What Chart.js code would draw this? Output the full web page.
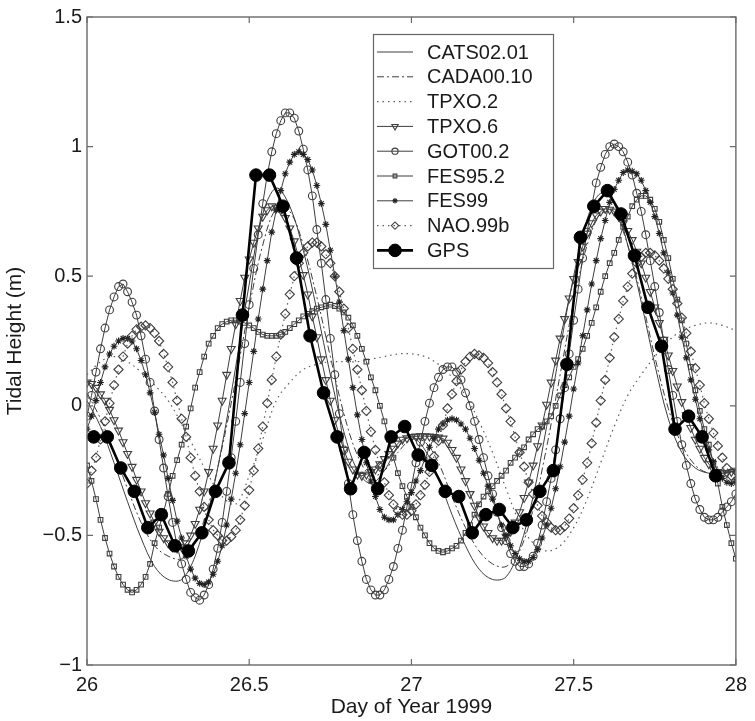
<!DOCTYPE html>
<html><head><meta charset="utf-8">
<script src="https://cdn.jsdelivr.net/npm/chart.js@4.4.0/dist/chart.umd.min.js"></script>
<style>html,body{margin:0;padding:0;background:#fff;}#wrap{width:755px;height:721px;}</style>
</head><body><div id="wrap"><canvas id="c" width="755" height="721"></canvas></div>
<script>
// ---- sampling of the series (day of year) ----
const startDay = 26;
const markerStepHours = 1/3;   // model series with markers: 20-min samples
const lineStepHours = 1;       // model series without markers: hourly
const gpsStartDay = 26 + 0.5/24;
const gpsStepHours = 1;

const seriesNames = ['CATS02.01','CADA00.10','TPXO.2','TPXO.6','GOT00.2','FES95.2','FES99','NAO.99b','GPS'];
const xTickValues = [26, 26.5, 27, 27.5, 28];
const yTickValues = [-1, -0.5, 0, 0.5, 1, 1.5];

// hourly
const cats0201 = [0.02,-0.08,-0.22,-0.37,-0.51,-0.62,-0.67,-0.67,-0.58,-0.40,-0.15,0.15,0.47,0.74,0.84,0.77,0.60,0.37,0.12,-0.10,-0.25,-0.30,-0.25,-0.16,-0.12,-0.17,-0.28,-0.42,-0.54,-0.63,-0.67,-0.66,-0.55,-0.35,-0.08,0.22,0.50,0.72,0.82,0.78,0.62,0.40,0.16,-0.05,-0.18,-0.24,-0.26,-0.26,-0.25];
const cada0010 = [0.05,-0.05,-0.18,-0.32,-0.45,-0.54,-0.58,-0.59,-0.53,-0.38,-0.16,0.10,0.38,0.62,0.76,0.75,0.62,0.42,0.19,-0.03,-0.19,-0.27,-0.25,-0.18,-0.13,-0.14,-0.22,-0.35,-0.47,-0.56,-0.61,-0.62,-0.56,-0.40,-0.16,0.12,0.40,0.62,0.74,0.74,0.62,0.42,0.19,-0.01,-0.15,-0.23,-0.26,-0.26,-0.25];
const tpxo2 = [0.12,0.17,0.19,0.17,0.13,0.08,0.02,-0.07,-0.17,-0.27,-0.35,-0.38,-0.27,-0.13,0.02,0.09,0.14,0.16,0.17,0.17,0.17,0.18,0.19,0.20,0.20,0.19,0.16,0.11,0.04,-0.06,-0.18,-0.32,-0.45,-0.53,-0.56,-0.54,-0.47,-0.36,-0.22,-0.08,0.04,0.12,0.19,0.25,0.29,0.31,0.32,0.31,0.29];

// 20-minute samples
const tpxo6 = [
0.09,0.085,0.07, 0.045,0.02,-0.015, -0.055,-0.095,-0.14, -0.185,-0.235,-0.285, -0.33,-0.375,-0.415, -0.45,-0.485,-0.51,
-0.53,-0.545,-0.55, -0.545,-0.53,-0.50, -0.455,-0.40,-0.33, -0.255,-0.165,-0.075, 0.02,0.12,0.22, 0.315,0.405,0.495,
0.565,0.63,0.685, 0.73,0.755,0.77, 0.765,0.755,0.725, 0.685,0.635,0.57, 0.505,0.43,0.345, 0.265,0.18,0.10,
0.02,-0.055,-0.115, -0.17,-0.215,-0.245, -0.265,-0.27,-0.265, -0.255,-0.245,-0.225, -0.205,-0.185,-0.165, -0.145,-0.13,-0.125,
-0.12,-0.118,-0.117, -0.117,-0.118,-0.12, -0.122,-0.126,-0.142, -0.17,-0.20,-0.245, -0.29,-0.34,-0.385, -0.43,-0.465,-0.49,
-0.51,-0.52,-0.52, -0.505,-0.485,-0.45, -0.41,-0.355,-0.295, -0.23,-0.155,-0.075, 0.005,0.09,0.175, 0.26,0.335,0.415,
0.49,0.555,0.615, 0.665,0.705,0.735, 0.75,0.76,0.757, 0.75,0.73,0.705, 0.675,0.64,0.595, 0.55,0.495,0.44,
0.38,0.32,0.255, 0.195,0.135,0.075, 0.015,-0.035,-0.085, -0.13,-0.165,-0.20, -0.225,-0.245,-0.255, -0.26,-0.26,-0.255,
-0.25];
const got002 = [
-0.04,0.04,0.13, 0.22,0.30,0.37, 0.42,0.46,0.47, 0.44,0.40,0.35, 0.27,0.18,0.09, -0.02,-0.13,-0.24,
-0.35,-0.45,-0.54, -0.61,-0.67,-0.72, -0.74,-0.75,-0.73, -0.69,-0.63,-0.55, -0.45,-0.33,-0.20, -0.06,0.09,0.24,
0.39,0.53,0.66, 0.78,0.89,0.98, 1.05,1.10,1.13, 1.13,1.11,1.06, 0.99,0.91,0.81, 0.68,0.55,0.41,
0.26,0.12,-0.03, -0.17,-0.30,-0.42, -0.52,-0.60,-0.67, -0.71,-0.73,-0.73, -0.71,-0.67,-0.62, -0.55,-0.48,-0.39,
-0.31,-0.22,-0.14, -0.06,0.01,0.07, 0.11,0.14,0.15, 0.15,0.13,0.10, 0.05,0.00,-0.06, -0.13,-0.20,-0.27,
-0.34,-0.41,-0.47, -0.52,-0.57,-0.60, -0.62,-0.62,-0.61, -0.58,-0.53,-0.46, -0.37,-0.28,-0.17, -0.05,0.07,0.20,
0.33,0.45,0.57, 0.67,0.77,0.86, 0.92,0.97,1.00, 1.01,1.00,0.98, 0.94,0.89,0.82, 0.75,0.66,0.56,
0.46,0.36,0.25, 0.14,0.04,-0.06, -0.15,-0.23,-0.30, -0.36,-0.40,-0.43, -0.44,-0.44,-0.43, -0.41,-0.39,-0.37,
-0.34];
const fes952 = [
-0.23,-0.29,-0.36, -0.44,-0.51,-0.57, -0.62,-0.66,-0.69, -0.71,-0.72,-0.71, -0.69,-0.66,-0.61, -0.53,-0.47,-0.41,
-0.34,-0.27,-0.21, -0.15,-0.08,-0.01, 0.07,0.13,0.19, 0.24,0.27,0.30, 0.315,0.325,0.33, 0.33,0.325,0.32,
0.31,0.30,0.285, 0.275,0.27,0.27, 0.27,0.275,0.285, 0.30,0.315,0.33, 0.345,0.355,0.365, 0.375,0.38,0.385,
0.39,0.385,0.375, 0.36,0.34,0.31, 0.27,0.22,0.17, 0.11,0.06,0.00, -0.06,-0.13,-0.20, -0.26,-0.31,-0.35,
-0.39,-0.43,-0.47, -0.50,-0.53,-0.55, -0.56,-0.565,-0.56, -0.55,-0.54,-0.52, -0.49,-0.46,-0.42, -0.38,-0.35,-0.33,
-0.31,-0.29,-0.27, -0.25,-0.22,-0.20, -0.18,-0.16,-0.13, -0.11,-0.09,-0.08, -0.06,-0.04,0.00, 0.04,0.08,0.11,
0.15,0.18,0.22, 0.27,0.32,0.38, 0.44,0.50,0.55, 0.59,0.64,0.69, 0.73,0.77,0.795, 0.81,0.81,0.795,
0.76,0.71,0.64, 0.57,0.49,0.41, 0.33,0.24,0.15, 0.06,-0.02,-0.09, -0.15,-0.22,-0.30, -0.39,-0.46,-0.53,
-0.59];
const fes99 = [
-0.09,-0.04,0.02, 0.09,0.15,0.20, 0.23,0.25,0.26, 0.26,0.25,0.22, 0.175,0.12,0.05, -0.025,-0.11,-0.19,
-0.28,-0.365,-0.445, -0.51,-0.58,-0.63, -0.665,-0.685,-0.69, -0.68,-0.65,-0.60, -0.54,-0.46,-0.36, -0.26,-0.15,-0.03,
0.09,0.21,0.335, 0.45,0.56,0.67, 0.755,0.83,0.895, 0.94,0.97,0.98, 0.97,0.95,0.91, 0.85,0.78,0.70,
0.60,0.50,0.40, 0.29,0.18,0.07, -0.035,-0.13,-0.22, -0.29,-0.35,-0.40, -0.43,-0.44,-0.44, -0.42,-0.40,-0.37,
-0.335,-0.29,-0.25, -0.205,-0.16,-0.125, -0.09,-0.07,-0.055, -0.05,-0.055,-0.07, -0.09,-0.125,-0.165, -0.21,-0.26,-0.31,
-0.36,-0.415,-0.46, -0.50,-0.54,-0.57, -0.59,-0.60,-0.60, -0.585,-0.555,-0.51, -0.46,-0.395,-0.32, -0.235,-0.14,-0.04,
0.065,0.165,0.27, 0.37,0.47,0.56, 0.645,0.715,0.785, 0.835,0.87,0.90, 0.91,0.905,0.895, 0.87,0.83,0.785,
0.73,0.665,0.59, 0.515,0.435,0.35, 0.265,0.185,0.10, 0.025,-0.05,-0.11, -0.17,-0.215,-0.255, -0.28,-0.295,-0.30,
-0.29];
const nao99b = [
-0.30,-0.25,-0.20, -0.13,-0.06,0.01, 0.08,0.14,0.19, 0.24,0.27,0.295, 0.305,0.31,0.30, 0.28,0.25,0.20,
0.15,0.09,0.02, -0.05,-0.12,-0.20, -0.27,-0.33,-0.39, -0.44,-0.48,-0.50, -0.52,-0.52,-0.505, -0.48,-0.44,-0.385,
-0.325,-0.25,-0.165, -0.08,0.01,0.10, 0.19,0.275,0.355, 0.43,0.50,0.55, 0.59,0.615,0.63, 0.63,0.615,0.585,
0.55,0.50,0.44, 0.375,0.30,0.22, 0.14,0.06,-0.02, -0.10,-0.17,-0.235, -0.295,-0.345,-0.38, -0.405,-0.42,-0.42,
-0.405,-0.38,-0.345, -0.305,-0.255,-0.195, -0.135,-0.075,-0.01, 0.045,0.095,0.14, 0.17,0.19,0.20, 0.195,0.185,0.165,
0.13,0.09,0.045, -0.01,-0.06,-0.12, -0.18,-0.235,-0.295, -0.34,-0.385,-0.425, -0.45,-0.47,-0.48, -0.48,-0.465,-0.435,
-0.395,-0.345,-0.285, -0.22,-0.145,-0.065, 0.02,0.10,0.185, 0.265,0.335,0.405, 0.46,0.51,0.55, 0.575,0.59,0.59,
0.58,0.56,0.53, 0.49,0.45,0.395, 0.34,0.28,0.21, 0.145,0.08,0.01, -0.05,-0.105,-0.155, -0.20,-0.24,-0.27,
-0.29];
// GPS, hourly from 26.02
const gps = [-0.12,-0.12,-0.24,-0.33,-0.47,-0.42,-0.54,-0.56,-0.49,-0.33,-0.22,0.35,0.89,0.89,0.77,0.57,0.27,0.05,-0.12,-0.32,-0.18,-0.32,-0.12,-0.08,-0.19,-0.23,-0.33,-0.35,-0.49,-0.42,-0.40,-0.47,-0.44,-0.33,-0.25,0.16,0.65,0.77,0.83,0.74,0.58,0.38,0.23,-0.09,-0.04,-0.12,-0.27];

function pts(day0, stepH, vals){ return vals.map((v,i)=>({x: day0 + i*stepH/24, y: v})); }

const INK = '#3e3e3e';
const FONT = "'Liberation Sans', Arial, Helvetica, sans-serif";
const clear = 'rgba(0,0,0,0)';

const datasets = [
 {label: seriesNames[0], data: pts(startDay, lineStepHours, cats0201), borderColor: INK, borderWidth: 1, pointRadius: 0, tension: 0.35, order: 8},
 {label: seriesNames[1], data: pts(startDay, lineStepHours, cada0010), borderColor: INK, borderWidth: 1, borderDash: [7,3,2,3], pointRadius: 0, tension: 0.35, order: 7},
 {label: seriesNames[2], data: pts(startDay, lineStepHours, tpxo2), borderColor: '#5a5a5a', borderWidth: 1.2, borderDash: [1.5,4], pointRadius: 0, tension: 0.35, order: 6},
 {label: seriesNames[3], data: pts(startDay, markerStepHours, tpxo6), borderColor: INK, borderWidth: 1, pointStyle: 'triangle', rotation: 180, pointRadius: 4.6, pointBorderColor: INK, pointBackgroundColor: clear, pointBorderWidth: 1.1, order: 5},
 {label: seriesNames[4], data: pts(startDay, markerStepHours, got002), borderColor: INK, borderWidth: 1, pointStyle: 'circle', pointRadius: 3.9, pointBorderColor: INK, pointBackgroundColor: clear, pointBorderWidth: 1.1, order: 4},
 {label: seriesNames[5], data: pts(startDay, markerStepHours, fes952), borderColor: INK, borderWidth: 1, pointStyle: 'rect', pointRadius: 3.3, pointBorderColor: INK, pointBackgroundColor: clear, pointBorderWidth: 1.1, order: 3},
 {label: seriesNames[6], data: pts(startDay, markerStepHours, fes99), borderColor: INK, borderWidth: 1, pointStyle: 'star', pointRadius: 3.4, pointBorderColor: '#222', pointBackgroundColor: clear, pointBorderWidth: 1.1, order: 2},
 {label: seriesNames[7], data: pts(startDay, markerStepHours, nao99b), borderColor: '#5a5a5a', borderWidth: 1.2, borderDash: [1.5,4], pointStyle: 'rectRot', pointRadius: 4.6, pointBorderColor: INK, pointBackgroundColor: clear, pointBorderWidth: 1.1, order: 1},
 {label: seriesNames[8], data: pts(gpsStartDay, gpsStepHours, gps), borderColor: '#000', borderWidth: 2.6, pointStyle: 'circle', pointRadius: 6.3, pointBorderColor: '#000', pointBackgroundColor: '#000', pointBorderWidth: 1, order: 0}
];
datasets.forEach(d => { d.showLine = true; d.fill = false; d.pointHoverRadius = d.pointRadius; });

const fmt = v => (v < 0 ? '\u2212' : '') + String(Math.abs(v));

const framePlugin = {
  id: 'frame',
  afterDraw(chart){
    const ctx = chart.ctx, a = chart.chartArea, sx = chart.scales.x, sy = chart.scales.y;
    ctx.save();
    ctx.strokeStyle = '#6a6a6a'; ctx.lineWidth = 1.4;
    ctx.strokeRect(a.left, a.top, a.right - a.left, a.bottom - a.top);
    ctx.lineWidth = 1.2;
    const L = 6;
    ctx.beginPath();
    xTickValues.forEach(v => { const px = sx.getPixelForValue(v); ctx.moveTo(px, a.bottom); ctx.lineTo(px, a.bottom - L); ctx.moveTo(px, a.top); ctx.lineTo(px, a.top + L); });
    yTickValues.forEach(v => { const py = sy.getPixelForValue(v); ctx.moveTo(a.left, py); ctx.lineTo(a.left + L, py); ctx.moveTo(a.right, py); ctx.lineTo(a.right - L, py); });
    ctx.stroke();

    // legend box
    const x0 = 373, y0 = 34, w = 180, h = 234, rowH = 24.8, firstY = 52;
    ctx.fillStyle = '#fff'; ctx.fillRect(x0, y0, w, h);
    ctx.strokeStyle = '#666'; ctx.lineWidth = 1.2; ctx.strokeRect(x0 + 0.5, y0 + 0.5, w, h);
    chart.data.datasets.forEach((ds, i) => {
      const y = firstY + i * rowH;
      ctx.save();
      ctx.strokeStyle = ds.borderColor; ctx.lineWidth = ds.borderWidth;
      ctx.setLineDash(ds.borderDash || []);
      ctx.beginPath(); ctx.moveTo(377, y); ctx.lineTo(413, y); ctx.stroke();
      ctx.setLineDash([]);
      if (ds.pointRadius > 0) {
        ctx.fillStyle = ds.pointBackgroundColor; ctx.strokeStyle = ds.pointBorderColor; ctx.lineWidth = ds.pointBorderWidth;
        Chart.helpers.drawPoint(ctx, {pointStyle: ds.pointStyle, rotation: ds.rotation || 0, radius: ds.pointRadius * (i === 8 ? 1 : 0.8), borderWidth: ds.pointBorderWidth}, 395, y);
      }
      ctx.restore();
      ctx.fillStyle = '#1a1a1a'; ctx.font = '20px ' + FONT; ctx.textBaseline = 'middle'; ctx.textAlign = 'left';
      ctx.fillText(ds.label, 427, y + 1);
    });
    ctx.restore();
  }
};

new Chart(document.getElementById('c'), {
  type: 'scatter',
  data: {datasets},
  options: {
    responsive: false, animation: false, devicePixelRatio: 1,
    layout: {padding: {top: 15, right: 13, left: 0, bottom: 0}},
    plugins: {legend: {display: false}, tooltip: {enabled: false}},
    scales: {
      x: {
        type: 'linear', min: 26, max: 28,
        afterBuildTicks: s => { s.ticks = xTickValues.map(v => ({value: v})); },
        afterFit: s => { s.height = 56; },
        grid: {display: false, drawTicks: false}, border: {display: false},
        ticks: {color: '#1a1a1a', font: {size: 20, family: FONT}, padding: 8, maxRotation: 0, callback: v => fmt(v)},
        title: {display: true, text: 'Day of Year 1999', color: '#1a1a1a', font: {size: 21, family: FONT}, padding: {top: 0, bottom: 1}}
      },
      y: {
        type: 'linear', min: -1, max: 1.5,
        afterBuildTicks: s => { s.ticks = yTickValues.map(v => ({value: v})); },
        afterFit: s => { s.width = 87; },
        grid: {display: false, drawTicks: false}, border: {display: false},
        ticks: {color: '#1a1a1a', font: {size: 20, family: FONT}, padding: 5, callback: v => fmt(v)},
        title: {display: true, text: 'Tidal Height (m)', color: '#1a1a1a', font: {size: 21, family: FONT}, padding: {top: 3, bottom: 0}}
      }
    }
  },
  plugins: [framePlugin]
});
</script></body></html>
